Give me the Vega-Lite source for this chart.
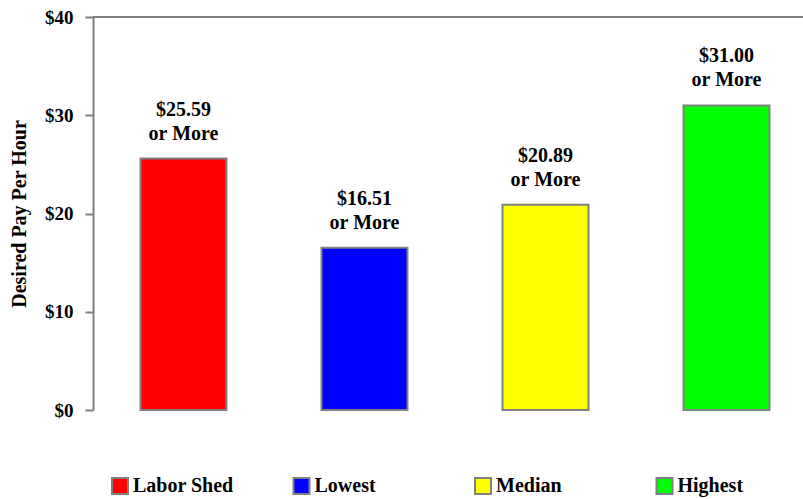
{
  "$schema": "https://vega.github.io/schema/vega-lite/v6.json",
  "autosize": {"type": "none"},
  "width": 724,
  "height": 393,
  "padding": {"left": 93, "top": 17, "right": 0, "bottom": 89},
  "background": "white",
  "config": {
    "font": "Liberation Serif",
    "view": {"stroke": null},
    "axis": {"labelFont": "Liberation Serif", "titleFont": "Liberation Serif"}
  },
  "data": {
    "values": [
      {"category": "Labor Shed", "pay": 25.59, "label": "$25.59\nor More"},
      {"category": "Lowest", "pay": 16.51, "label": "$16.51\nor More"},
      {"category": "Median", "pay": 20.89, "label": "$20.89\nor More"},
      {"category": "Highest", "pay": 31.00, "label": "$31.00\nor More"}
    ]
  },
  "layer": [
    {
      "mark": {"type": "rule", "color": "#808080", "strokeWidth": 2},
      "data": {"values": [{"v": 40}]},
      "encoding": {"y": {"field": "v", "type": "quantitative"}}
    },
    {
      "mark": {"type": "bar", "stroke": "#808080", "strokeWidth": 2},
      "encoding": {
        "x": {
          "field": "category", "type": "nominal", "sort": null,
          "scale": {"paddingInner": 0.525, "paddingOuter": 0.2625},
          "axis": null
        },
        "y": {
          "field": "pay", "type": "quantitative",
          "scale": {"domain": [0, 40], "nice": false},
          "axis": {
            "title": "Desired Pay Per Hour",
            "titleFontSize": 20, "titleFontWeight": "bold", "titleColor": "black",
            "titlePadding": 15,
            "values": [0, 10, 20, 30, 40],
            "labelExpr": "'$' + datum.value",
            "labelFontSize": 19, "labelFontWeight": "bold", "labelColor": "black",
            "labelPadding": 12,
            "tickSize": 8, "tickColor": "#808080", "tickWidth": 2,
            "domainColor": "#808080", "domainWidth": 2,
            "grid": false
          }
        },
        "fill": {
          "field": "category", "type": "nominal", "sort": null,
          "scale": {"domain": ["Labor Shed", "Lowest", "Median", "Highest"], "range": ["#ff0000", "#0000ff", "#ffff00", "#00ff00"]},
          "legend": {
            "title": null,
            "orient": "none",
            "legendX": 17,
            "legendY": 459,
            "direction": "horizontal",
            "columns": 4,
            "gridAlign": "all",
            "columnPadding": 55.5,
            "symbolType": "square",
            "symbolSize": 256,
            "symbolStrokeColor": "#808080",
            "symbolStrokeWidth": 2,
            "symbolOffset": 0,
            "labelOffset": 3,
            "labelFontSize": 20,
            "labelFontWeight": "bold",
            "labelColor": "black",
            "labelFont": "Liberation Serif"
          }
        }
      }
    },
    {
      "mark": {"type": "text", "baseline": "alphabetic", "dy": -43, "fontSize": 20, "fontWeight": "bold", "color": "black", "lineHeight": 24, "lineBreak": "\n"},
      "encoding": {
        "x": {"field": "category", "type": "nominal", "sort": null},
        "y": {"field": "pay", "type": "quantitative"},
        "text": {"field": "label"}
      }
    }
  ]
}
